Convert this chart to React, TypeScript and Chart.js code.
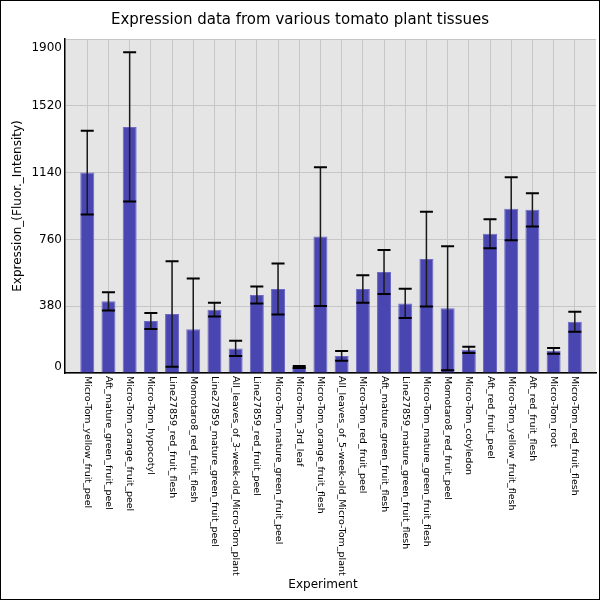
import React, { useEffect, useRef } from 'react';
import { Chart, registerables } from 'chart.js';

Chart.register(...registerables);

const categories = [
  'Micro-Tom_yellow_fruit_peel',
  'Aft_mature_green_fruit_peel',
  'Micro-Tom_orange_fruit_peel',
  'Micro-Tom_hypocotyl',
  'Line27859_red_fruit_flesh',
  'Momotaro8_red_fruit_flesh',
  'Line27859_mature_green_fruit_peel',
  'All_leaves_of_3-week-old_Micro-Tom_plant',
  'Line27859_red_fruit_peel',
  'Micro-Tom_mature_green_fruit_peel',
  'Micro-Tom_3rd_leaf',
  'Micro-Tom_orange_fruit_flesh',
  'All_leaves_of_5-week-old_Micro-Tom_plant',
  'Micro-Tom_red_fruit_peel',
  'Aft_mature_green_fruit_flesh',
  'Line27859_mature_green_fruit_flesh',
  'Micro-Tom_mature_green_fruit_flesh',
  'Momotaro8_red_fruit_peel',
  'Micro-Tom_cotyledon',
  'Aft_red_fruit_peel',
  'Micro-Tom_yellow_fruit_flesh',
  'Aft_red_fruit_flesh',
  'Micro-Tom_root',
  'Micro-Tom_red_fruit_flesh',
];

const values = [1140, 408, 1400, 296, 336, 249, 360, 140, 444, 478, 34, 776, 97, 478, 574, 396, 648, 368, 132, 792, 934, 928, 126, 292];
const errors = [238, 52, 425, 45, 300, 288, 39, 43, 48, 145, 6, 395, 28, 78, 125, 83, 270, 353, 18, 83, 179, 94, 16, 57];
const yTickValues = [0, 380, 760, 1140, 1520, 1900];

const chartTitle = 'Expression data from various tomato plant tissues';
const xTitle = 'Experiment';
const yTitle = 'Expression_(Fluor._Intensity)';

const FONT = '"DejaVu Sans", sans-serif';

const decorPlugin = {
  id: 'decor',
  beforeDraw(chart: any) {
    const { ctx, chartArea } = chart;
    ctx.save();
    ctx.fillStyle = '#ffffff';
    ctx.fillRect(0, 0, chart.width, chart.height);
    ctx.fillStyle = '#e5e5e5';
    ctx.fillRect(chartArea.left, chartArea.top, chartArea.right - chartArea.left, chartArea.bottom - chartArea.top);
    ctx.restore();
  },
  afterDatasetsDraw(chart: any) {
    const { ctx, chartArea } = chart;
    const xs = chart.scales.x;
    const ys = chart.scales.y;
    ctx.save();
    ctx.beginPath();
    ctx.rect(chartArea.left, chartArea.top - 3, chartArea.right - chartArea.left, chartArea.bottom - chartArea.top + 3);
    ctx.clip();
    values.forEach((v, i) => {
      const x = xs.getPixelForValue(i);
      const yHi = ys.getPixelForValue(v + errors[i]);
      const yLo = ys.getPixelForValue(v - errors[i]);
      ctx.strokeStyle = '#1a1a1a';
      ctx.lineWidth = 1.5;
      ctx.beginPath();
      ctx.moveTo(x, yHi);
      ctx.lineTo(x, yLo);
      ctx.stroke();
      ctx.strokeStyle = '#000000';
      ctx.lineWidth = 2;
      ctx.beginPath();
      ctx.moveTo(x - 6.5, yHi);
      ctx.lineTo(x + 6.5, yHi);
      ctx.moveTo(x - 6.5, yLo);
      ctx.lineTo(x + 6.5, yLo);
      ctx.stroke();
    });
    ctx.restore();
  },
  afterDraw(chart: any) {
    const { ctx, chartArea } = chart;
    const xs = chart.scales.x;
    const ys = chart.scales.y;
    ctx.save();
    ctx.fillStyle = '#000';
    ctx.font = `15px ${FONT}`;
    ctx.textAlign = 'center';
    ctx.textBaseline = 'middle';
    ctx.fillText(chartTitle, 300, 20);
    ctx.font = `12px ${FONT}`;
    ctx.textAlign = 'right';
    yTickValues.forEach((v) => {
      let y = ys.getPixelForValue(v);
      if (y - 9 < chartArea.top) y = chartArea.top + 9;
      if (y + 6 > chartArea.bottom) y = chartArea.bottom - 6;
      ctx.fillText(String(v), 62, y);
    });
    ctx.font = `9.5px ${FONT}`;
    ctx.textAlign = 'left';
    ctx.textBaseline = 'middle';
    categories.forEach((c, i) => {
      const x = xs.getPixelForValue(i);
      ctx.save();
      ctx.translate(x, chartArea.bottom + 3);
      ctx.rotate(Math.PI / 2);
      ctx.fillText(c, 0, 0);
      ctx.restore();
    });
    ctx.font = `12px ${FONT}`;
    ctx.textAlign = 'center';
    ctx.fillText(xTitle, 323, 585);
    ctx.save();
    ctx.translate(18, (chartArea.top + chartArea.bottom) / 2);
    ctx.rotate(-Math.PI / 2);
    ctx.fillText(yTitle, 0, 0);
    ctx.restore();
    ctx.strokeStyle = '#000';
    ctx.lineWidth = 1;
    ctx.strokeRect(0.5, 0.5, chart.width - 1, chart.height - 1);
    ctx.restore();
  },
};

export default function App() {
  const ref = useRef<HTMLCanvasElement | null>(null);
  useEffect(() => {
    if (!ref.current) return;
    const chart = new Chart(ref.current, {
      type: 'bar',
      data: {
        datasets: [
          {
            data: values.map((v, i) => ({ x: i, y: v })),
            backgroundColor: '#4a46b1',
            borderColor: '#6d69c4',
            borderWidth: 1,
            barPercentage: 0.66,
            categoryPercentage: 1,
          } as any,
        ],
      },
      options: {
        animation: false,
        responsive: false,
        devicePixelRatio: 1,
        layout: { padding: { left: 65, top: 39, right: 4, bottom: 227 } },
        plugins: {
          legend: { display: false },
          tooltip: { enabled: false },
          title: { display: false },
        },
        scales: {
          x: {
            type: 'linear',
            offset: false,
            min: -1.05,
            max: 24,
            afterBuildTicks: (s: any) => {
              s.ticks = categories.map((_, i) => ({ value: i }));
            },
            afterFit: (s: any) => {
              s.height = 0;
            },
            ticks: { display: false },
            grid: { color: '#c6c6c6', lineWidth: 1, drawTicks: false, offset: false },
            border: { display: true, color: '#000', width: 1.5 },
          },
          y: {
            type: 'linear',
            min: 0,
            max: 1900,
            afterBuildTicks: (s: any) => {
              s.ticks = yTickValues.map((v) => ({ value: v }));
            },
            afterFit: (s: any) => {
              s.width = 0;
            },
            ticks: { display: false },
            grid: { color: '#c6c6c6', lineWidth: 1, drawTicks: false },
            border: { display: true, color: '#000', width: 1.5 },
          },
        },
      } as any,
      plugins: [decorPlugin],
    });
    return () => chart.destroy();
  }, []);
  return (
    <div style={{ position: 'absolute', left: 0, top: 0, width: 600, height: 600 }}>
      <canvas ref={ref} width={600} height={600} style={{ display: 'block' }} />
    </div>
  );
}
